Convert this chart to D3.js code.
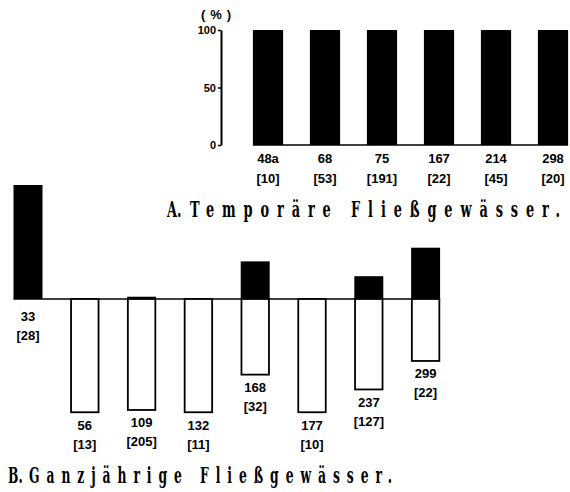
<!DOCTYPE html>
<html>
<head>
<meta charset="utf-8">
<script src="https://cdn.jsdelivr.net/npm/d3@7"></script>
<style>
  body { margin: 0; background: #fff; }
  svg { display: block; }
  .lbl { font-family: "Liberation Sans", Arial, sans-serif; font-weight: bold; font-size: 13px; }
  .ttl { font-family: "DejaVu Serif", "Liberation Serif", serif; font-weight: bold; }
</style>
</head>
<body>
<svg id="chart" width="570" height="492"></svg>
<script>
// A. temporary streams
const topCats = ["48a", "68", "75", "167", "214", "298"];
const topN = [10, 53, 191, 22, 45, 20];
const topBlack = [100, 100, 100, 100, 100, 100];
const topTicks = [0, 50, 100];

// B. perennial streams (black above the line, white below)
const botCats = ["33", "56", "109", "132", "168", "177", "237", "299"];
const botN = [28, 13, 205, 11, 32, 10, 127, 22];
const botBlack = [100, 0, 2, 0, 33, 0, 20, 45];
const botWhite = [0, 100, 98, 100, 67, 100, 80, 55];

const svg = d3.select("#chart");

// ---- top chart
const xTop = d3.scaleBand().domain(topCats).range([239.5, 581.5]).paddingInner(0.47).paddingOuter(0.235);
const yTop = d3.scaleLinear().domain([0, 100]).range([145, 30]);

const ax = svg.append("g")
  .attr("transform", "translate(221,0)")
  .call(d3.axisLeft(yTop).tickValues(topTicks).tickSize(3).tickSizeOuter(0).tickPadding(2));
ax.select(".domain").attr("stroke-width", 2);
ax.selectAll(".tick line").attr("stroke-width", 1.5);
ax.selectAll("text").attr("font-family", "Liberation Sans, Arial, sans-serif")
  .attr("font-weight", "bold").attr("font-size", 11);

svg.append("text").attr("class", "lbl").attr("x", 201).attr("y", 19)
  .attr("font-size", 9).attr("textLength", 30).attr("lengthAdjust", "spacing").text("(%)");

svg.append("line")
  .attr("x1", xTop(topCats[0])).attr("x2", xTop(topCats[topCats.length - 1]) + xTop.bandwidth())
  .attr("y1", yTop(0)).attr("y2", yTop(0)).attr("stroke", "#000").attr("stroke-width", 1.5);

svg.selectAll(".tbar").data(topCats).enter().append("rect")
  .attr("x", d => xTop(d)).attr("width", xTop.bandwidth())
  .attr("y", (d, i) => yTop(topBlack[i])).attr("height", (d, i) => yTop(0) - yTop(topBlack[i]))
  .attr("fill", "#000");

const tl = svg.selectAll(".tl").data(topCats).enter().append("g")
  .attr("transform", d => `translate(${xTop(d) + xTop.bandwidth() / 2},0)`);
tl.append("text").attr("class", "lbl").attr("text-anchor", "middle").attr("y", yTop(0) + 17.5).text(d => d);
tl.append("text").attr("class", "lbl").attr("text-anchor", "middle").attr("y", yTop(0) + 37.5).text((d, i) => `[${topN[i]}]`);

// ---- bottom chart
const xBot = d3.scaleBand().domain(botCats).range([-0.4, 454]).paddingInner(0.49).paddingOuter(0.245);
const yBot = d3.scaleLinear().domain([-100, 100]).range([413, 185]);

svg.append("line")
  .attr("x1", xBot(botCats[0])).attr("x2", xBot(botCats[botCats.length - 1]) + xBot.bandwidth())
  .attr("y1", yBot(0)).attr("y2", yBot(0)).attr("stroke", "#000").attr("stroke-width", 1.5);

svg.selectAll(".wbar").data(botCats.filter((d, i) => botWhite[i] > 0)).enter().append("rect")
  .attr("x", d => xBot(d) + 0.75).attr("width", xBot.bandwidth() - 1.5)
  .attr("y", yBot(0)).attr("height", d => yBot(-botWhite[botCats.indexOf(d)]) - yBot(0) - 0.75)
  .attr("fill", "#fff").attr("stroke", "#000").attr("stroke-width", 1.8);

svg.selectAll(".bbar").data(botCats.filter((d, i) => botBlack[i] > 0)).enter().append("rect")
  .attr("x", d => xBot(d)).attr("width", xBot.bandwidth())
  .attr("y", d => yBot(botBlack[botCats.indexOf(d)]))
  .attr("height", d => yBot(0) - yBot(botBlack[botCats.indexOf(d)]))
  .attr("fill", "#000");

const bl = svg.selectAll(".bl").data(botCats).enter().append("g")
  .attr("transform", (d, i) => `translate(${xBot(d) + xBot.bandwidth() / 2},${Math.max(yBot(-botWhite[i]), yBot(0) + 5)})`);
bl.append("text").attr("class", "lbl").attr("text-anchor", "middle").attr("y", 16.5).text(d => d);
bl.append("text").attr("class", "lbl").attr("text-anchor", "middle").attr("y", 35.5).text((d, i) => `[${botN[i]}]`);

// ---- titles (narrow bold letters, wide spacing)
function title(x0, xText, x1, y, size, prefix, text) {
  const k = 0.56;
  const g = svg.append("g").attr("transform", `translate(0,${y}) scale(${k},1)`);
  g.append("text").attr("class", "ttl").attr("font-size", size).attr("x", x0 / k).text(prefix);
  g.append("text").attr("class", "ttl").attr("font-size", size).attr("x", xText / k)
    .attr("textLength", (x1 - xText) / k).attr("lengthAdjust", "spacing").text(text);
}
title(167, 190, 560, 216.5, 23, "A.", "Temporäre Fließgewässer.");
title(8, 29, 392, 483, 22, "B.", "Ganzjährige Fließgewässer.");
</script>
</body>
</html>
